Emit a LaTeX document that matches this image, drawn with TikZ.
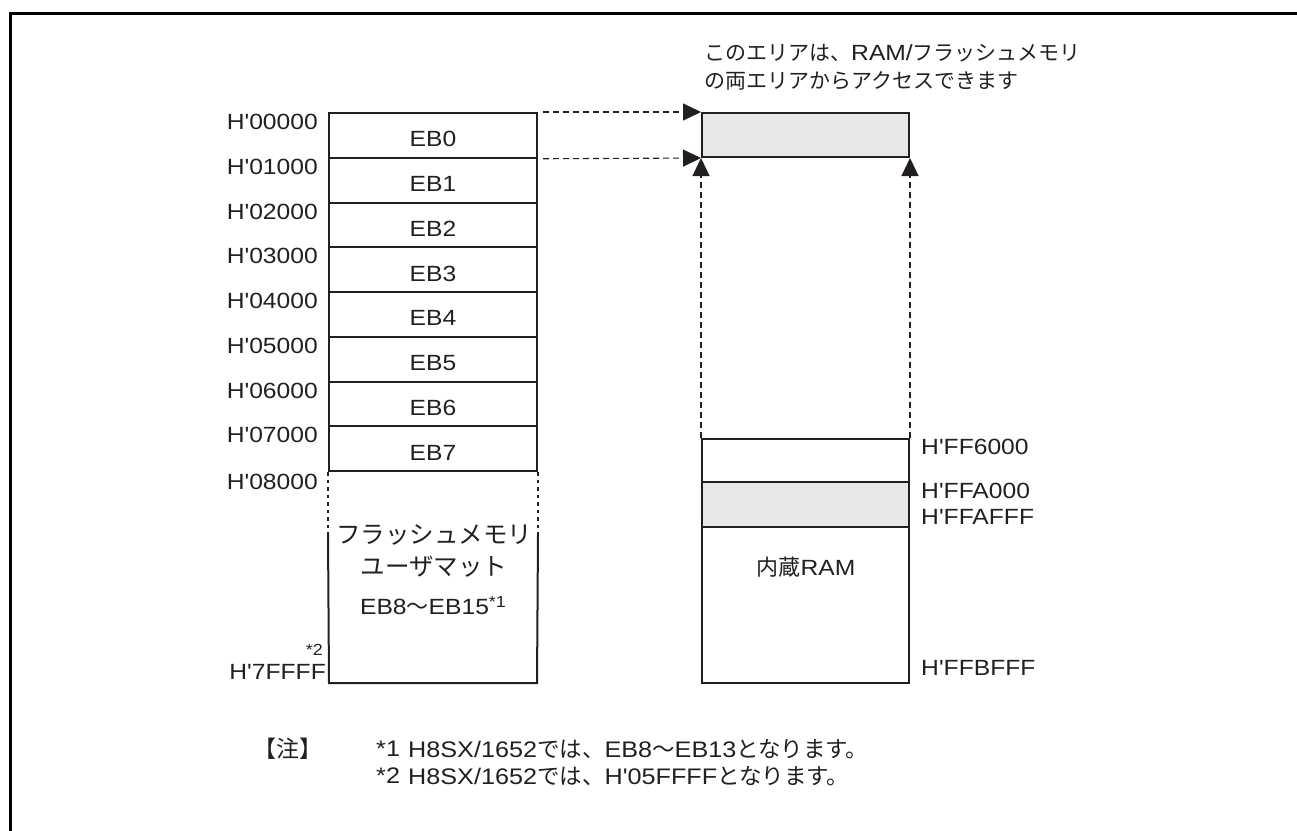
\documentclass[tikz,border=0pt]{standalone}
\usepackage{fontspec}
\setmainfont{Liberation Sans}[FakeStretch=1.12,Ligatures=TeXOff]
\newfontfamily\jp{Noto Sans CJK JP}
\usetikzlibrary{arrows.meta}

\definecolor{ink}{HTML}{231F20}
\definecolor{shade}{HTML}{E6E7E8}

\tikzset{
  boxline/.style={line width=2pt, draw=ink},
  ebrow/.style={boxline, minimum width=208pt, minimum height=44.75pt, inner sep=0pt},
  txt/.style={inner sep=0pt, text=ink, font=\fontsize{22}{26}\selectfont},
  addr/.style={txt, anchor=east},
  raddr/.style={txt, anchor=west},
  boxjp/.style={txt, font=\fontsize{24.5}{28}\selectfont},
  notetxt/.style={txt, anchor=west, font=\fontsize{22.5}{26}\selectfont},
  small/.style={inner sep=0pt, text=ink, font=\fontsize{16}{18}\selectfont},
  dasharrow/.style={draw=ink, line width=1.1pt, dash pattern=on 6pt off 4pt,
    -{Triangle[length=18pt,width=17pt]}},
  dotline/.style={draw=ink, line width=2.4pt, dash pattern=on 3.5pt off 4pt},
}

\begin{document}
\begin{tikzpicture}[x=1pt,y=-1pt]
\useasboundingbox (0,0) rectangle (1297,830);

% 外枠
\draw[line width=3pt, draw=black] (10,835) -- (10,13) -- (1300,13);

% 左: EB0..EB7
\foreach \i in {0,...,7}{
  \pgfmathsetmacro{\yc}{113+44.75*(\i+0.5)}
  \node[ebrow] (eb\i) at (433,\yc) {};
  \node[txt] (ebt\i) at ([yshift=-4pt]eb\i.center) {EB\i};
  \node[addr] (ad\i) at ([xshift=-10pt,yshift=-10pt]eb\i.north west) {H'0\i000};
}
\node[addr] (ad8) at ([xshift=-10pt,yshift=-10pt]eb7.south west) {H'08000};

% フラッシュメモリ ユーザマット 下部
\coordinate (fl1) at ([yshift=-62pt]eb7.south west);
\coordinate (fr1) at ([yshift=-62pt]eb7.south east);
\coordinate (fl2) at (329,683);
\coordinate (fr2) at (537,683);
\draw[dotline] (eb7.south west) -- (fl1);
\draw[dotline] (eb7.south east) -- (fr1);
\draw[boxline] (fl1) -- (fl2) -- (fr2) -- (fr1);

\node[boxjp] (mat1) at (434,535) {\jp フラッシュメモリ};
\node[boxjp] (mat2) at (434,567) {\jp ユーザマット};
\node[txt] (mat3) at (433,606) {EB8{\jp 〜}EB15\raisebox{7pt}{\fontsize{16}{18}\selectfont *1}};
\node[small, anchor=east] (st2) at (323,650) {*2};
\node[addr] (ad9) at (326,672) {H'7FFFF};

% 右: 共有エリア
\node[boxline, fill=shade, minimum width=207pt, minimum height=44pt, inner sep=0pt]
  (share) at (805.5,135) {};

% 右: 内蔵RAM
\node[boxline, minimum width=207pt, minimum height=244pt, inner sep=0pt]
  (ram) at (805.5,561) {};
\node[boxline, fill=shade, minimum width=207pt, minimum height=45pt, inner sep=0pt]
  (ramshare) at (805.5,504.5) {};
\node[txt] (ramt) at (806,567) {{\jp 内蔵}RAM};

\node[raddr] (r1) at (921,447) {H'FF6000};
\node[raddr] (r2) at (921,491) {H'FFA000};
\node[raddr] (r3) at (921,517) {H'FFAFFF};
\node[raddr] (r4) at (921,668) {H'FFBFFF};

% 矢印
\coordinate (s0) at ([xshift=5pt]eb0.north east);
\coordinate (s1) at ([xshift=5pt]eb0.south east);
\draw[dasharrow] (s0) -- (share.north west);
\draw[dasharrow] (s1) -- (share.south west);
\draw[dasharrow] (ram.north west) -- (share.south west);
\draw[dasharrow] (ram.north east) -- (share.south east);

% 説明
\node[txt, anchor=west, font=\fontsize{21}{25}\selectfont] (cap1) at (704,53)
  {{\jp このエリアは、}{\fontsize{22}{26}\selectfont RAM/}{\jp フラッシュメモリ}};
\node[txt, anchor=west, font=\fontsize{21}{25}\selectfont] (cap2) at (704,81)
  {\jp の両エリアからアクセスできます};

% 注
\node[notetxt, font=\fontsize{23}{26}\selectfont] (note) at (253,749) {\jp 【注】};
\node[notetxt] (n1) at (376,749) {*1};
\node[notetxt] (n1t) at (408,749) {H8SX/1652{\jp では、}EB8{\jp 〜}EB13{\jp となります。}};
\node[notetxt] (n2) at (376,776) {*2};
\node[notetxt] (n2t) at (408,776) {H8SX/1652{\jp では、}H'05FFFF{\jp となります。}};

\end{tikzpicture}
\end{document}
